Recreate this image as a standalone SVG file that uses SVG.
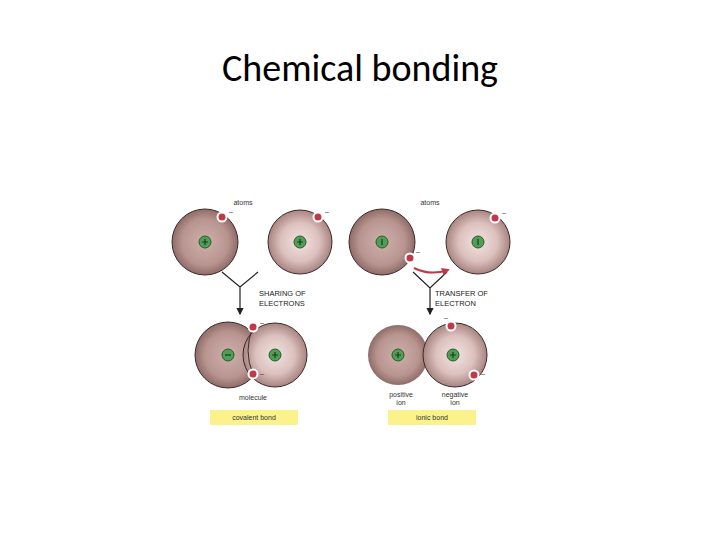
<svg xmlns="http://www.w3.org/2000/svg" width="720" height="540" viewBox="0 0 720 540">
<defs>
<radialGradient id="light"><stop offset="0" stop-color="#f2e3e1"/><stop offset="0.6" stop-color="#dcc1be"/><stop offset="1" stop-color="#a88480"/></radialGradient>
<radialGradient id="dark"><stop offset="0" stop-color="#cfb1ad"/><stop offset="0.7" stop-color="#b8948f"/><stop offset="1" stop-color="#8f6c68"/></radialGradient>
<marker id="ah" markerWidth="6" markerHeight="6" refX="5" refY="3" orient="auto"><path d="M0,0 L6,3 L0,6z" fill="#222"/></marker>
<marker id="rh" markerWidth="4" markerHeight="4" refX="3" refY="2" orient="auto"><path d="M0,0 L4,2 L0,4z" fill="#c0394a"/></marker>
</defs>
<style>
.atom{stroke:#3a2a2a;stroke-width:1}
.nuc{fill:#4f9e55;stroke:#2a5a2a;stroke-width:1}
.pl{stroke:#1d3a1d;stroke-width:1.2}
.el{fill:#c0394a;stroke:#fff;stroke-width:2}
.t{font-family:"Liberation Sans",Arial,sans-serif;font-size:7px;fill:#333}
.cap{font-family:"Liberation Sans",Arial,sans-serif;font-size:7.5px;fill:#222}
.ln{stroke:#222;stroke-width:1.2;fill:none}
</style>
<rect width="720" height="540" fill="#fff"/>
<text x="360" y="81" text-anchor="middle" font-family="Carlito,'Open Sans','Liberation Sans',sans-serif" font-size="38" fill="#000">Chemical bonding</text>

<g id="atom1"><circle cx="205" cy="242" r="33" fill="url(#dark)" class="atom"/><circle cx="205" cy="242" r="6" class="nuc"/><path d="M202,242h6M205,239v6" class="pl"/><circle cx="222" cy="217" r="4.5" class="el"/><text x="229" y="214" class="t">–</text></g>
<g id="atom2"><circle cx="300" cy="242" r="32" fill="url(#light)" class="atom"/><circle cx="300" cy="242" r="6" class="nuc"/><path d="M297,242h6M300,239v6" class="pl"/><circle cx="318" cy="217" r="4.5" class="el"/><text x="325" y="214" class="t">–</text></g>
<text x="243" y="205" class="t" text-anchor="middle">atoms</text>

<g id="molecule">
<circle cx="228" cy="355" r="33" fill="url(#dark)" class="atom"/>
<circle cx="275" cy="355" r="32" fill="url(#light)" class="atom"/>
<path d="M253,327 Q243,351 253,374" fill="none" stroke="#3a2a2a"/>
<circle cx="228" cy="355" r="6" class="nuc"/><path d="M225,355h6" class="pl"/>
<circle cx="275" cy="355" r="6" class="nuc"/><path d="M272,355h6M275,352v6" class="pl"/>
<circle cx="253" cy="327" r="4.5" class="el"/><circle cx="253" cy="374" r="4.5" class="el"/>
<text x="260" y="325" class="t">–</text><text x="260" y="376" class="t">–</text>
<text x="253" y="400" class="t" text-anchor="middle">molecule</text>
</g>

<g id="atom3"><circle cx="382" cy="242" r="33" fill="url(#dark)" class="atom"/><circle cx="382" cy="242" r="6" class="nuc"/><path d="M382,239v6" class="pl"/><circle cx="410" cy="258" r="4.5" class="el"/><text x="416" y="254" class="t">–</text></g>
<g id="atom4"><circle cx="478" cy="242" r="32" fill="url(#light)" class="atom"/><circle cx="478" cy="242" r="6" class="nuc"/><path d="M478,239v6" class="pl"/><circle cx="495" cy="218" r="4.5" class="el"/><text x="502" y="215" class="t">–</text></g>
<text x="430" y="205" class="t" text-anchor="middle">atoms</text>

<g id="ions">
<circle cx="398" cy="355" r="30" fill="url(#dark)"/>
<circle cx="455" cy="355" r="32" fill="url(#light)" class="atom"/>
<circle cx="398" cy="355" r="6" class="nuc"/><path d="M395,355h6M398,352v6" class="pl"/>
<circle cx="453" cy="355" r="6" class="nuc"/><path d="M450,355h6M453,352v6" class="pl"/>
<circle cx="451" cy="326" r="4.5" class="el"/><circle cx="474" cy="375" r="4.5" class="el"/>
<text x="444" y="320" class="t">–</text><text x="481" y="376" class="t">–</text>
<text x="401" y="397" class="t" text-anchor="middle">positive</text><text x="401" y="405" class="t" text-anchor="middle">ion</text>
<text x="455" y="397" class="t" text-anchor="middle">negative</text><text x="455" y="405" class="t" text-anchor="middle">ion</text>
</g>

<g id="connectors">
<path d="M222,272 L240,287 L258,272 M240,287 V314" class="ln" marker-end="url(#ah)"/>
<path d="M413,272 L430,288 L447,272 M430,288 V314" class="ln" marker-end="url(#ah)"/>
<path d="M414,268 Q430,276 448,270" fill="none" stroke="#c0394a" stroke-width="2" marker-end="url(#rh)"/>
</g>
<text x="259" y="296" class="cap">SHARING OF</text><text x="259" y="306" class="cap">ELECTRONS</text>
<text x="435" y="296" class="cap">TRANSFER OF</text><text x="435" y="306" class="cap">ELECTRON</text>

<g id="covalent"><rect x="210" y="410" width="88" height="15" fill="#fbf28c"/><text x="254" y="420" class="t" text-anchor="middle">covalent bond</text></g>
<g id="ionic"><rect x="388" y="410" width="88" height="15" fill="#fbf28c"/><text x="432" y="420" class="t" text-anchor="middle">ionic bond</text></g>
</svg>
